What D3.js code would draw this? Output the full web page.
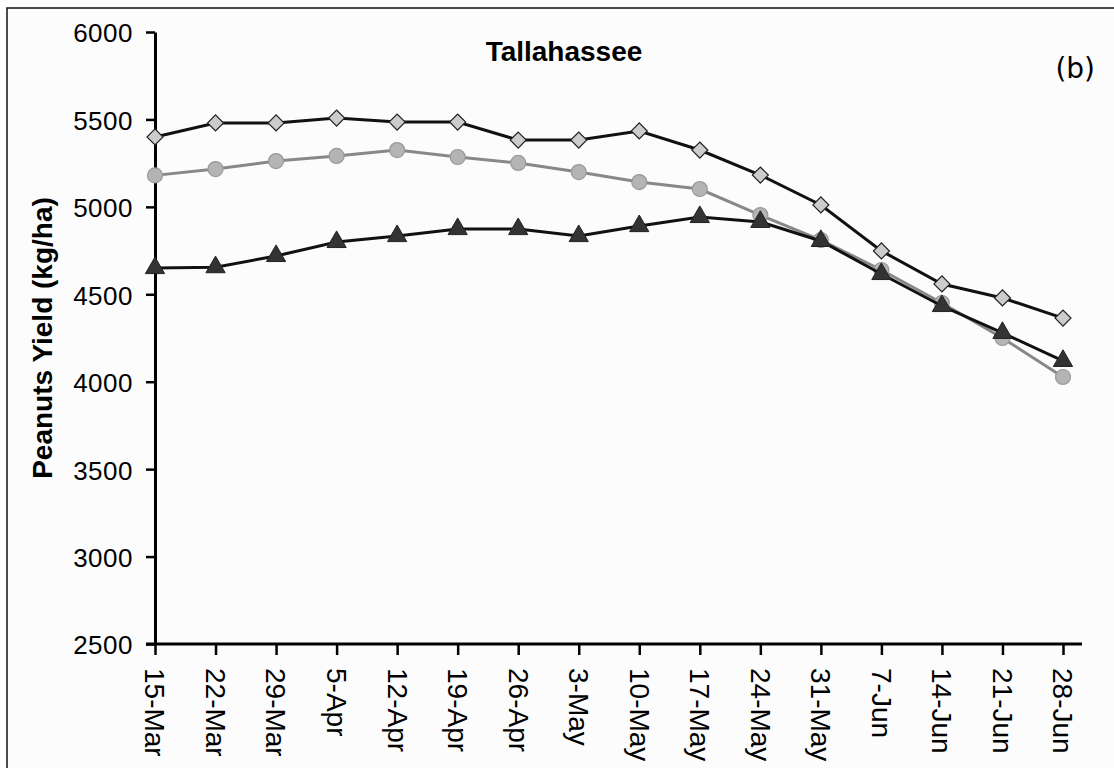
<!DOCTYPE html>
<html>
<head>
<meta charset="utf-8">
<script src="https://cdn.jsdelivr.net/npm/d3@7/dist/d3.min.js"></script>
<style>
  html, body { margin: 0; padding: 0; background: #ffffff; }
  svg { display: block; }
</style>
</head>
<body>
<svg id="chart" width="1114" height="768"></svg>
<script>
const categories = ["15-Mar","22-Mar","29-Mar","5-Apr","12-Apr","19-Apr","26-Apr","3-May","10-May","17-May","24-May","31-May","7-Jun","14-Jun","21-Jun","28-Jun"];
const diamondSeries = [5400,5480,5480,5508,5485,5485,5382,5382,5434,5325,5182,5011,4748,4559,4479,4364];
const circleSeries  = [5180,5216,5262,5291,5325,5285,5251,5199,5142,5102,4953,4810,4639,4450,4250,4027];
const triangleSeries= [4650,4655,4719,4799,4833,4873,4873,4833,4890,4942,4914,4805,4616,4433,4279,4119];
const yTicks = [2500,3000,3500,4000,4500,5000,5500,6000];
const chartTitle = "Tallahassee";
const panelLabel = "(b)";
const yTitle = "Peanuts Yield (kg/ha)";

const svg = d3.select("#chart");

// frame
svg.append("rect").attr("x",7).attr("y",8).attr("width",1200).attr("height",900)
  .attr("fill","#fcfcfc").attr("stroke","#111").attr("stroke-width",1.5);

const x = d3.scalePoint().domain(categories).range([155,1063]);
const y = d3.scaleLinear().domain([2500,6000]).range([644,32]);

const font = "'Liberation Sans', Arial, sans-serif";

// Y axis
const yAxis = d3.axisLeft(y).tickValues(yTicks).tickFormat(d3.format("d"))
  .tickSize(9).tickSizeOuter(0).tickPadding(13);
const gy = svg.append("g").attr("transform","translate(155,0)").call(yAxis);
gy.select(".domain").attr("stroke","#000").attr("stroke-width",3);
gy.selectAll(".tick line").attr("stroke","#000").attr("stroke-width",2.5);
gy.selectAll(".tick text").attr("font-family",font).attr("font-size",26).attr("fill","#000")
  .attr("dy","0.38em").attr("letter-spacing","0.5");

// X axis
const xAxis = d3.axisBottom(x).tickSize(11).tickSizeOuter(0);
const gx = svg.append("g").attr("transform","translate(0,644)").call(xAxis);
gx.select(".domain").remove();
gx.append("line").attr("x1",146).attr("x2",1082).attr("y1",0).attr("y2",0)
  .attr("stroke","#000").attr("stroke-width",3);
gx.selectAll(".tick line").attr("stroke","#000").attr("stroke-width",2.5);
gx.selectAll(".tick text")
  .attr("font-family",font).attr("font-size",28).attr("fill","#000")
  .attr("text-anchor","start")
  .attr("transform","translate(0,24) rotate(90)")
  .attr("x",0).attr("y",0).attr("dy","0.36em");

// lines
const line = d3.line().x((d,i)=>x(categories[i])).y(d=>y(d));

svg.append("path").datum(diamondSeries).attr("d",line)
  .attr("fill","none").attr("stroke","#111").attr("stroke-width",3);
svg.append("g").selectAll("path").data(diamondSeries).join("path")
  .attr("d", d3.symbol().type(d3.symbolSquare).size(128))
  .attr("transform",(d,i)=>`translate(${x(categories[i])},${y(d)}) rotate(45)`)
  .attr("fill","#cccccc").attr("stroke","#222").attr("stroke-width",1.2);

svg.append("path").datum(circleSeries).attr("d",line)
  .attr("fill","none").attr("stroke","#888").attr("stroke-width",3);
svg.append("g").selectAll("circle").data(circleSeries).join("circle")
  .attr("cx",(d,i)=>x(categories[i])).attr("cy",d=>y(d)).attr("r",7.5)
  .attr("fill","#b4b4b4").attr("stroke","#999").attr("stroke-width",1.2);

svg.append("path").datum(triangleSeries).attr("d",line)
  .attr("fill","none").attr("stroke","#111").attr("stroke-width",3);
svg.append("g").selectAll("path").data(triangleSeries).join("path")
  .attr("d", d3.symbol().type(d3.symbolTriangle).size(160))
  .attr("transform",(d,i)=>`translate(${x(categories[i])},${y(d)})`)
  .attr("fill","#333333").attr("stroke","#222").attr("stroke-width",1);

// titles
svg.append("text").attr("x",564).attr("y",61).attr("text-anchor","middle")
  .attr("font-family",font).attr("font-weight","bold").attr("font-size",28).attr("fill","#000")
  .text(chartTitle);
svg.append("text").attr("x",1095).attr("y",78).attr("text-anchor","end")
  .attr("font-family","'DejaVu Sans', sans-serif").attr("font-size",28).attr("fill","#000")
  .text(panelLabel);
svg.append("text").attr("transform","translate(52,338) rotate(-90)").attr("text-anchor","middle")
  .attr("font-family",font).attr("font-weight","bold").attr("font-size",28).attr("fill","#000")
  .text(yTitle);
</script>
</body>
</html>
